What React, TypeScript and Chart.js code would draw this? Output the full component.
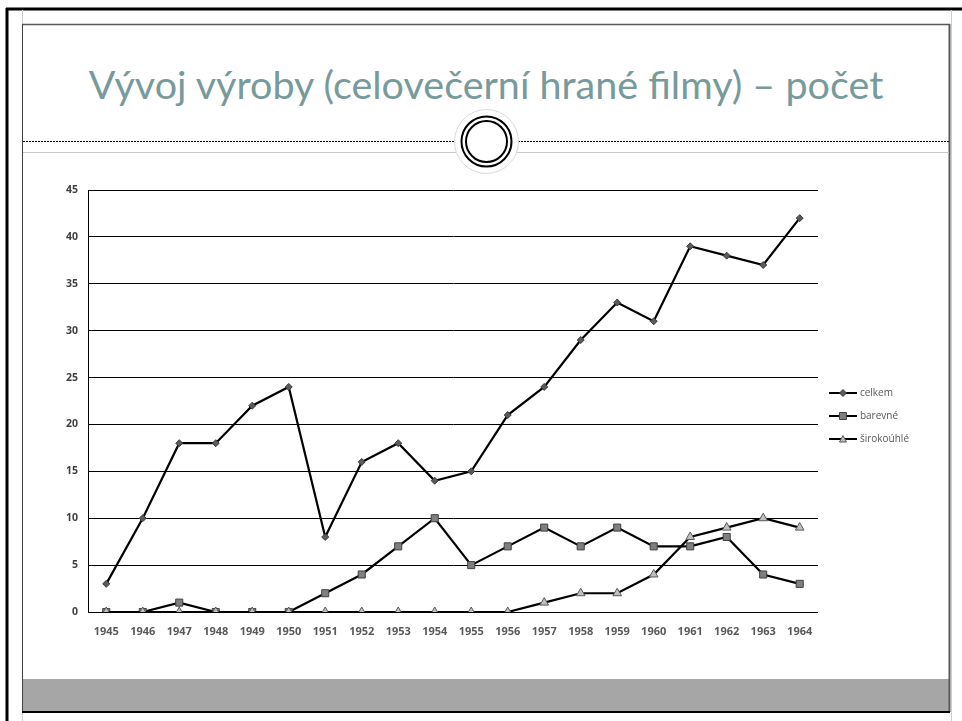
import React, { useEffect, useRef } from "react";
import { Chart, registerables } from "chart.js";

Chart.register(...registerables);

const years = ["1945","1946","1947","1948","1949","1950","1951","1952","1953","1954","1955","1956","1957","1958","1959","1960","1961","1962","1963","1964"];
const celkem = [3,10,18,18,22,24,8,16,18,14,15,21,24,29,33,31,39,38,37,42];
const barevne = [0,0,1,0,0,0,2,4,7,10,5,7,9,7,9,7,7,8,4,3];
const sirokouhle = [0,0,0,0,0,0,0,0,0,0,0,0,1,2,2,4,8,9,10,9];
const seriesNames = ["celkem", "barevné", "širokoúhlé"];
const yTicks = [0,5,10,15,20,25,30,35,40,45];
const title = "Vývoj výroby (celovečerní hrané filmy) – počet";

const styles = [
  { pointStyle: "rectRot", radius: 3.5, bg: "#5a5a5a", border: "#3a3a3a" },
  { pointStyle: "rect", radius: 5, bg: "#7f7f7f", border: "#404040" },
  { pointStyle: "triangle", radius: 5, bg: "#c0c0c0", border: "#595959" },
];

function legendImage(i: number): HTMLCanvasElement {
  const c = document.createElement("canvas");
  c.width = 28;
  c.height = 12;
  const ctx = c.getContext("2d")!;
  ctx.strokeStyle = "#000";
  ctx.lineWidth = 2;
  ctx.beginPath();
  ctx.moveTo(0, 6);
  ctx.lineTo(28, 6);
  ctx.stroke();
  const s = styles[i];
  ctx.fillStyle = s.bg;
  ctx.strokeStyle = s.border;
  ctx.lineWidth = 1;
  ctx.beginPath();
  if (i === 0) {
    ctx.moveTo(14, 2.5); ctx.lineTo(17.5, 6); ctx.lineTo(14, 9.5); ctx.lineTo(10.5, 6); ctx.closePath();
  } else if (i === 1) {
    ctx.rect(10.5, 2.5, 7, 7);
  } else {
    ctx.moveTo(14, 2.5); ctx.lineTo(17.5, 9); ctx.lineTo(10.5, 9); ctx.closePath();
  }
  ctx.fill();
  ctx.stroke();
  return c;
}

export default function App() {
  const ref = useRef<HTMLCanvasElement | null>(null);
  useEffect(() => {
    if (!ref.current) return;
    const data = [celkem, barevne, sirokouhle];
    const chart = new Chart(ref.current, {
      type: "line",
      data: {
        labels: years,
        datasets: data.map((d, i) => ({
          label: seriesNames[i],
          data: d,
          borderColor: "#000",
          borderWidth: 2.2,
          tension: 0,
          pointStyle: styles[i].pointStyle as any,
          pointRadius: styles[i].radius,
          pointBackgroundColor: styles[i].bg,
          pointBorderColor: styles[i].border,
          pointBorderWidth: 1,
          order: 3 - i,
        })),
      },
      options: {
        animation: false,
        responsive: false,
        maintainAspectRatio: false,
        layout: { padding: { top: 20, bottom: 28, left: 0, right: 31 } },
        plugins: {
          tooltip: { enabled: false },
          legend: {
            position: "right",
            labels: {
              usePointStyle: true,
              pointStyleWidth: 24,
              padding: 13,
              color: "#595959",
              font: { family: "'Open Sans', sans-serif", size: 10 },
              generateLabels: () =>
                seriesNames.map((n, i) => ({
                  text: n,
                  pointStyle: legendImage(i) as any,
                  fillStyle: "#000",
                  strokeStyle: "#000",
                  lineWidth: 0,
                  hidden: false,
                  datasetIndex: i,
                  fontColor: "#595959",
                })),
            },
          },
        },
        scales: {
          x: {
            offset: true,
            grid: { display: false, drawTicks: false },
            border: { display: true, color: "#000", width: 1 },
            ticks: {
              padding: 13,
              color: "#595959",
              font: { family: "'Open Sans', sans-serif", size: 11, weight: "bold" },
              maxRotation: 0,
              autoSkip: false,
            },
            afterFit: (s: any) => { s.height = 30; },
          },
          y: {
            min: 0,
            max: 45,
            afterBuildTicks: (s: any) => { s.ticks = yTicks.map((v) => ({ value: v })); },
            grid: { color: "#000", lineWidth: 1, drawTicks: false },
            border: { display: true, color: "#000", width: 1 },
            ticks: {
              padding: 10,
              color: "#404040",
              font: { family: "'Open Sans', sans-serif", size: 10.5, weight: "bold" },
            },
            afterFit: (s: any) => { s.width = 68; },
          },
        },
      },
    });
    return () => chart.destroy();
  }, []);

  return (
    <div style={{ position: "fixed", left: 0, top: 0, width: 962, height: 721, background: "#fff", overflow: "hidden" }}>
      <svg width={962} height={721} style={{ position: "absolute", left: 0, top: 0 }}>
        <line x1={6} y1={9} x2={962} y2={9} stroke="#000" strokeWidth={3} />
        <line x1={7} y1={8} x2={7} y2={721} stroke="#000" strokeWidth={3} />
        <line x1={22.5} y1={10} x2={22.5} y2={721} stroke="#cfcfcf" strokeWidth={1} />
        <line x1={951.5} y1={10} x2={951.5} y2={721} stroke="#cfcfcf" strokeWidth={1} />
        <rect x={22} y={679} width={928} height={33} fill="#a6a6a6" />
        <line x1={22} y1={24.5} x2={950} y2={24.5} stroke="#595959" strokeWidth={1.3} />
        <line x1={22.5} y1={24} x2={22.5} y2={712} stroke="#404040" strokeWidth={1} />
        <line x1={949.5} y1={24} x2={949.5} y2={712} stroke="#595959" strokeWidth={2} />
        <line x1={22} y1={712} x2={950} y2={712} stroke="#000" strokeWidth={2} />
        <line x1={23} y1={141.5} x2={949} y2={141.5} stroke="#000" strokeWidth={1} strokeDasharray="2 1" />
        <line x1={23} y1={152.5} x2={949} y2={152.5} stroke="#c8c8c8" strokeWidth={1} />
        <circle cx={486.5} cy={141.5} r={32} fill="#fff" stroke="#d9d9d9" strokeWidth={1} />
        <circle cx={486.5} cy={141.5} r={25} fill="none" stroke="#000" strokeWidth={2} />
        <circle cx={486.5} cy={141.5} r={20.5} fill="none" stroke="#000" strokeWidth={2} />
      </svg>
      <div style={{ position: "absolute", left: 22, width: 928, top: 58, textAlign: "center", fontFamily: "Lato, sans-serif", fontSize: 39.5, color: "#779a9b", whiteSpace: "nowrap", lineHeight: "52px" }}>
        {title}
      </div>
      <canvas ref={ref} width={930} height={500} style={{ position: "absolute", left: 20, top: 170, width: 930, height: 500 }} />
    </div>
  );
}
